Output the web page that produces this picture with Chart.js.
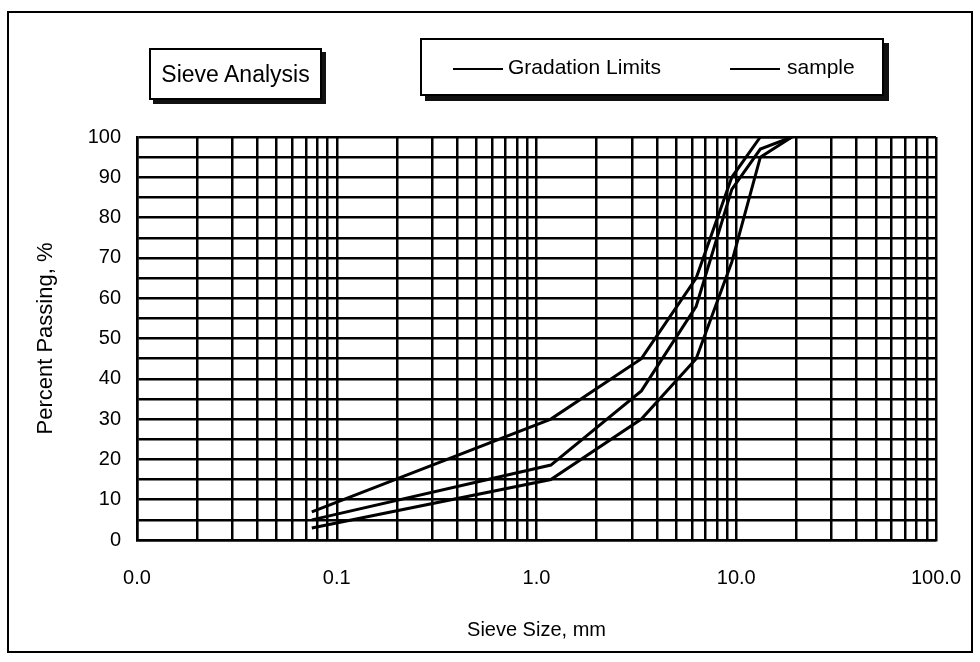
<!DOCTYPE html>
<html>
<head>
<meta charset="utf-8">
<script src="https://cdn.jsdelivr.net/npm/chart.js@4.4.0/dist/chart.umd.min.js"></script>
<style>
html,body{margin:0;padding:0;background:#fff;}
#wrap{position:relative;width:980px;height:662px;overflow:hidden;font-family:"Liberation Sans",Arial,sans-serif;color:#000;background:#fff;}
#frame{position:absolute;left:7px;top:11px;width:966px;height:642px;border:2px solid #000;box-sizing:border-box;}
#chart{position:absolute;left:0;top:0;}
.box{position:absolute;background:#fff;border:2px solid #000;box-sizing:border-box;}
#titleBox{left:149px;top:48px;width:173px;height:52px;box-shadow:4px 4px 0 #111;font-size:23px;line-height:48px;text-align:center;}
#legendBox{left:420px;top:38px;width:464px;height:58px;box-shadow:5px 5px 0 #111;font-size:21px;}
.lg-line{position:absolute;height:2px;background:#000;top:28px;}
.lg-text{position:absolute;top:15px;line-height:24px;white-space:nowrap;}
</style>
</head>
<body>
<div id="wrap">
  <div id="frame"></div>
  <canvas id="chart" width="980" height="662"></canvas>
  <div class="box" id="titleBox">Sieve Analysis</div>
  <div class="box" id="legendBox">
    <div class="lg-line" style="left:31px;width:50px;"></div>
    <div class="lg-text" style="left:86px;">Gradation Limits</div>
    <div class="lg-line" style="left:308px;width:50px;"></div>
    <div class="lg-text" style="left:365px;">sample</div>
  </div>
</div>
<script>
// ---- data ----
const sieveSizes = [0.075, 1.18, 3.35, 6.3, 9.5, 13.2, 19];      // mm
const upperLimit = [7, 30, 45, 65, 90, 100, 100];                // % passing
const lowerLimit = [3, 15, 30, 45, 69, 95, 100];
const sampleData = [5, 18.6, 37, 58, 87, 97, 100];

const xTickValues = [0.01, 0.1, 1, 10, 100];
const xTickLabels = ['0.0', '0.1', '1.0', '10.0', '100.0'];
const yTickValues = [0, 10, 20, 30, 40, 50, 60, 70, 80, 90, 100];
const yTickLabels = ['0', '10', '20', '30', '40', '50', '60', '70', '80', '90', '100'];
const gridMultipliers = [1, 2, 3, 4, 5, 6, 7, 8, 9];

// log grid lines (1..9 x each decade)
const xGrid = [];
xTickValues.slice(0, -1).forEach(d => gridMultipliers.forEach(k => xGrid.push(+(k * d).toPrecision(6))));
xGrid.push(xTickValues[xTickValues.length - 1]);

const toPts = ys => sieveSizes.map((x, i) => ({x: x, y: ys[i]}));

const lineStyle = {
  borderColor: '#000', backgroundColor: '#000', borderWidth: 3,
  pointRadius: 0, showLine: true, fill: false, tension: 0
};

const FONT = '"Liberation Sans", Arial, sans-serif';

new Chart(document.getElementById('chart'), {
  type: 'scatter',
  data: {
    datasets: [
      Object.assign({label: 'Gradation Limits', data: toPts(upperLimit)}, lineStyle),
      Object.assign({label: 'Gradation Limits', data: toPts(lowerLimit)}, lineStyle),
      Object.assign({label: 'sample', data: toPts(sampleData)}, lineStyle)
    ]
  },
  options: {
    responsive: false,
    animation: false,
    layout: {padding: {left: 0, top: 137, right: 44, bottom: 0}},
    plugins: {legend: {display: false}, tooltip: {enabled: false}, title: {display: false}},
    scales: {
      x: {
        type: 'logarithmic',
        min: 0.01, max: 100,
        afterBuildTicks: s => { s.ticks = xGrid.map(v => ({value: v})); },
        afterFit: s => { s.height = 122; s.paddingLeft = 0; s.paddingRight = 0; },
        grid: {color: '#000', lineWidth: 2.5, drawTicks: false},
        border: {display: true, color: '#000', width: 2.5},
        ticks: {
          autoSkip: false, maxRotation: 0, minRotation: 0, padding: 26,
          color: '#000', font: {family: FONT, size: 20},
          callback: v => {
            const i = xTickValues.findIndex(t => Math.abs(t - v) / t < 1e-6);
            return i >= 0 ? xTickLabels[i] : '';
          }
        },
        title: {display: true, text: 'Sieve Size, mm', color: '#000',
                font: {family: FONT, size: 20}, padding: {top: 0, bottom: 20}}
      },
      y: {
        type: 'linear',
        min: 0, max: 100,
        afterFit: s => { s.width = 137; s.paddingTop = 0; s.paddingBottom = 0; },
        grid: {color: '#000', lineWidth: 2.5, drawTicks: false},
        border: {display: true, color: '#000', width: 2.5},
        ticks: {
          stepSize: 5, autoSkip: false, padding: 16,
          color: '#000', font: {family: FONT, size: 20},
          callback: v => {
            const i = yTickValues.indexOf(v);
            return i >= 0 ? yTickLabels[i] : '';
          }
        },
        title: {display: true, text: 'Percent Passing, %', color: '#000',
                font: {family: FONT, size: 22}, padding: {top: 33, bottom: 0}}
      }
    }
  }
});
</script>
</body>
</html>
